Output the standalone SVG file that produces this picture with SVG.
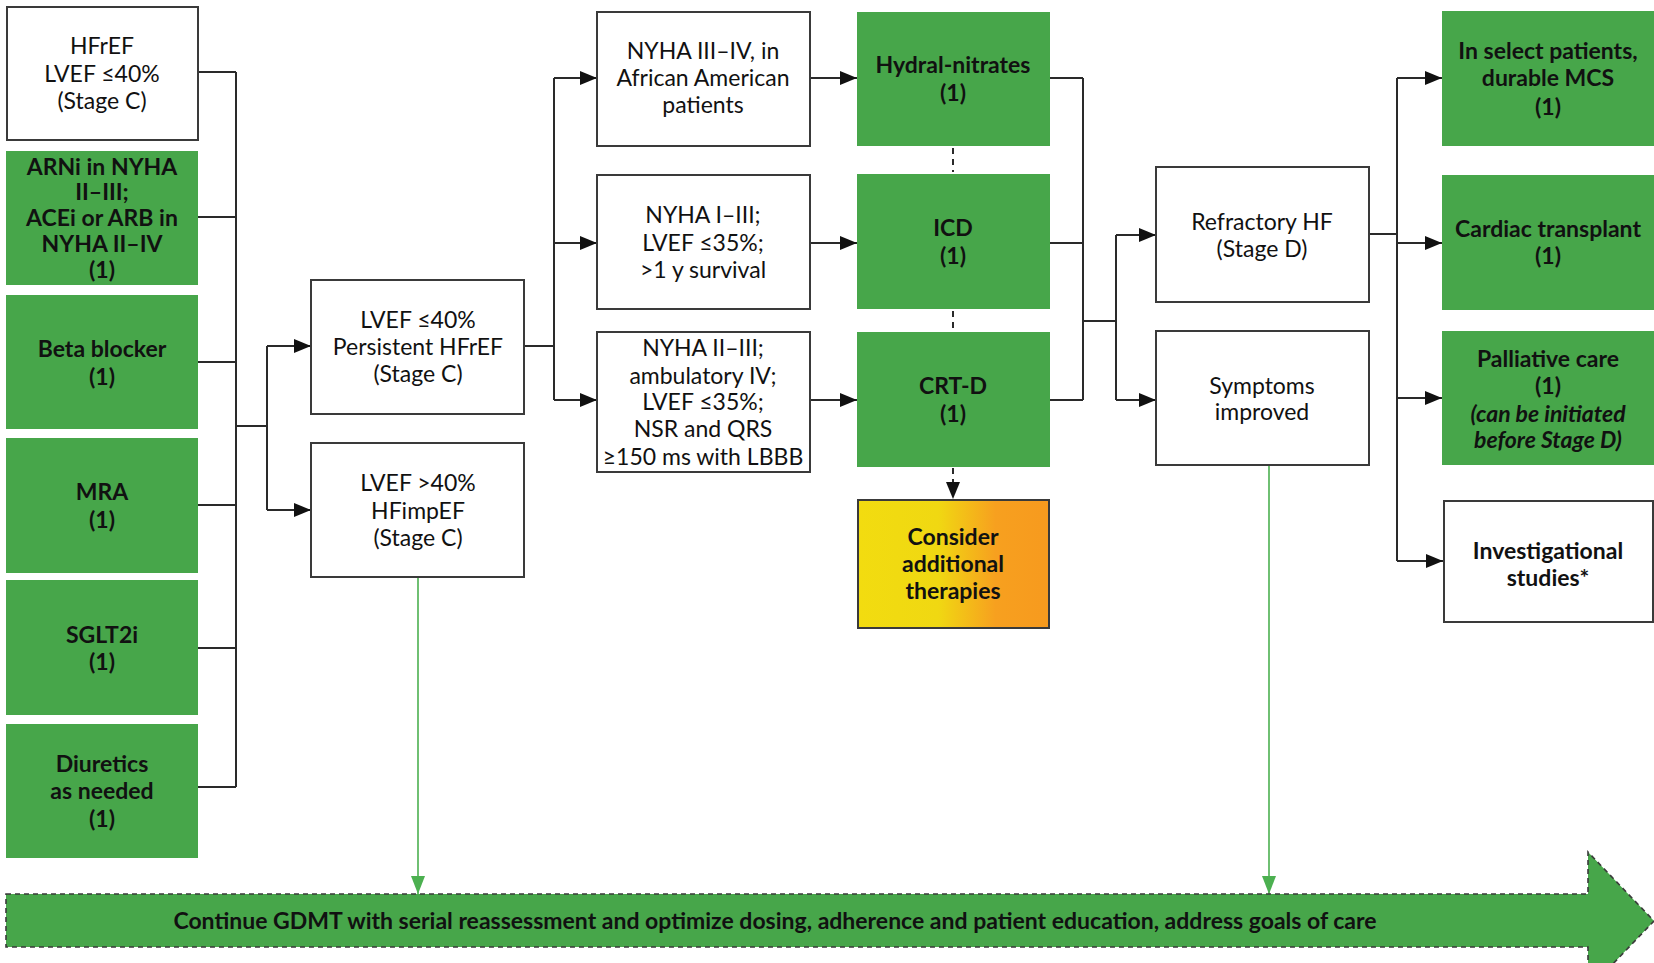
<svg xmlns="http://www.w3.org/2000/svg" width="1654" height="963" viewBox="0 0 1654 963">
<style>
.box{fill:#fff;stroke:#3a3a3a;stroke-width:2}
.g{fill:#47a64a}
.t{font-family:Lato,"Liberation Sans",sans-serif;font-size:23px;text-anchor:middle;fill:#111}
.b{font-weight:bold}
.i{font-style:italic;font-weight:bold}
.c{fill:none;stroke:#2a2a2a;stroke-width:2}
.d{fill:none;stroke:#2a2a2a;stroke-width:2;stroke-dasharray:6,5}
.gl{fill:none;stroke:#4cb050;stroke-width:1.6}
</style>
<defs>
<marker id="ar" markerUnits="userSpaceOnUse" markerWidth="17" markerHeight="14" viewBox="0 0 17 14" refX="17" refY="7" orient="auto"><path d="M0,0 L17,7 L0,14 z" fill="#111"/></marker>
<marker id="ag" markerUnits="userSpaceOnUse" markerWidth="18" markerHeight="14" viewBox="0 0 18 14" refX="18" refY="7" orient="auto"><path d="M0,0 L18,7 L0,14 z" fill="#4cb050"/></marker>
<linearGradient id="yo" x1="0" y1="0" x2="1" y2="0">
<stop offset="0" stop-color="#f2dc10"/><stop offset="0.42" stop-color="#f0d812"/><stop offset="0.72" stop-color="#f7a01f"/><stop offset="1" stop-color="#f79a1e"/>
</linearGradient>
</defs>

<g id="connectors">
<path class="c" d="M198,72H236M198,217H236M198,362H236M198,505H236M198,648H236M198,787H236M236,72V787M236,426H267M267,346V510"/>
<path class="c" d="M267,346H311" marker-end="url(#ar)"/>
<path class="c" d="M267,510H311" marker-end="url(#ar)"/>
<path class="c" d="M524,346H554M554,78V400"/>
<path class="c" d="M554,78H597" marker-end="url(#ar)"/>
<path class="c" d="M554,243H597" marker-end="url(#ar)"/>
<path class="c" d="M554,400H597" marker-end="url(#ar)"/>
<path class="c" d="M810,78H857" marker-end="url(#ar)"/>
<path class="c" d="M810,243H857" marker-end="url(#ar)"/>
<path class="c" d="M810,400H857" marker-end="url(#ar)"/>
<path class="c" d="M1050,78H1083M1050,243H1083M1050,400H1083M1083,78V400M1083,321H1116M1116,235V400"/>
<path class="c" d="M1116,235H1156" marker-end="url(#ar)"/>
<path class="c" d="M1116,400H1156" marker-end="url(#ar)"/>
<path class="c" d="M1369,234H1397M1397,78V561"/>
<path class="c" d="M1397,78H1442" marker-end="url(#ar)"/>
<path class="c" d="M1397,243H1442" marker-end="url(#ar)"/>
<path class="c" d="M1397,398H1442" marker-end="url(#ar)"/>
<path class="c" d="M1397,561H1443" marker-end="url(#ar)"/>
<path class="d" d="M953,148V172M953,311V331"/>
<path class="d" d="M953,468V499" marker-end="url(#ar)"/>
<path class="gl" d="M418,578V894" marker-end="url(#ag)"/>
<path class="gl" d="M1269,465V894" marker-end="url(#ag)"/>
</g>

<g id="n-hfref"><rect class="box" x="7" y="7" width="191" height="133"/>
<text class="t" x="102" y="54">HFrEF</text><text class="t" x="102" y="82">LVEF ≤40%</text><text class="t" x="102" y="109">(Stage C)</text></g>

<g id="n-arni"><rect class="g" x="6" y="151" width="192" height="134"/>
<text class="t b" x="102" y="175">ARNi in NYHA</text><text class="t b" x="102" y="200">II–III;</text><text class="t b" x="102" y="226">ACEi or ARB in</text><text class="t b" x="102" y="252">NYHA II–IV</text><text class="t b" x="102" y="278">(1)</text></g>

<g id="n-beta"><rect class="g" x="6" y="295" width="192" height="134"/>
<text class="t b" x="102" y="357">Beta blocker</text><text class="t b" x="102" y="385">(1)</text></g>

<g id="n-mra"><rect class="g" x="6" y="438" width="192" height="135"/>
<text class="t b" x="102" y="500">MRA</text><text class="t b" x="102" y="528">(1)</text></g>

<g id="n-sglt2i"><rect class="g" x="6" y="580" width="192" height="135"/>
<text class="t b" x="102" y="643">SGLT2i</text><text class="t b" x="102" y="670">(1)</text></g>

<g id="n-diur"><rect class="g" x="6" y="724" width="192" height="134"/>
<text class="t b" x="102" y="772">Diuretics</text><text class="t b" x="102" y="799">as needed</text><text class="t b" x="102" y="827">(1)</text></g>

<g id="n-persist"><rect class="box" x="311" y="280" width="213" height="134"/>
<text class="t" x="418" y="328">LVEF ≤40%</text><text class="t" x="418" y="355">Persistent HFrEF</text><text class="t" x="418" y="382">(Stage C)</text></g>

<g id="n-impef"><rect class="box" x="311" y="443" width="213" height="134"/>
<text class="t" x="418" y="491">LVEF &gt;40%</text><text class="t" x="418" y="519">HFimpEF</text><text class="t" x="418" y="546">(Stage C)</text></g>

<g id="n-aa"><rect class="box" x="597" y="12" width="213" height="134"/>
<text class="t" x="703" y="59">NYHA III–IV, in</text><text class="t" x="703" y="86">African American</text><text class="t" x="703" y="113">patients</text></g>

<g id="n-icdcrit"><rect class="box" x="597" y="175" width="213" height="134"/>
<text class="t" x="703" y="223">NYHA I–III;</text><text class="t" x="703" y="251">LVEF ≤35%;</text><text class="t" x="703" y="278">&gt;1 y survival</text></g>

<g id="n-crtcrit"><rect class="box" x="597" y="332" width="213" height="140"/>
<text class="t" x="703" y="356">NYHA II–III;</text><text class="t" x="703" y="384">ambulatory IV;</text><text class="t" x="703" y="410">LVEF ≤35%;</text><text class="t" x="703" y="437">NSR and QRS</text><text class="t" x="703" y="465">≥150 ms with LBBB</text></g>

<g id="n-hydral"><rect class="g" x="857" y="12" width="193" height="134"/>
<text class="t b" x="953" y="73">Hydral-nitrates</text><text class="t b" x="953" y="101">(1)</text></g>

<g id="n-icd"><rect class="g" x="857" y="174" width="193" height="135"/>
<text class="t b" x="953" y="236">ICD</text><text class="t b" x="953" y="264">(1)</text></g>

<g id="n-crtd"><rect class="g" x="857" y="332" width="193" height="135"/>
<text class="t b" x="953" y="394">CRT-D</text><text class="t b" x="953" y="422">(1)</text></g>

<g id="n-consider"><rect x="858" y="500" width="191" height="128" fill="url(#yo)" stroke="#3a3a3a" stroke-width="2"/>
<text class="t b" x="953" y="545">Consider</text><text class="t b" x="953" y="572">additional</text><text class="t b" x="953" y="599">therapies</text></g>

<g id="n-refractory"><rect class="box" x="1156" y="167" width="213" height="135"/>
<text class="t" x="1262" y="230">Refractory HF</text><text class="t" x="1262" y="257">(Stage D)</text></g>

<g id="n-improved"><rect class="box" x="1156" y="331" width="213" height="134"/>
<text class="t" x="1262" y="394">Symptoms</text><text class="t" x="1262" y="420">improved</text></g>

<g id="n-mcs"><rect class="g" x="1442" y="11" width="212" height="135"/>
<text class="t b" x="1548" y="59">In select patients,</text><text class="t b" x="1548" y="86">durable MCS</text><text class="t b" x="1548" y="115">(1)</text></g>

<g id="n-transplant"><rect class="g" x="1442" y="175" width="212" height="135"/>
<text class="t b" x="1548" y="237">Cardiac transplant</text><text class="t b" x="1548" y="264">(1)</text></g>

<g id="n-palliative"><rect class="g" x="1442" y="331" width="212" height="134"/>
<text class="t b" x="1548" y="367">Palliative care</text><text class="t b" x="1548" y="394">(1)</text><text class="t i" x="1548" y="422">(can be initiated</text><text class="t i" x="1548" y="448">before Stage D)</text></g>

<g id="n-invest"><rect class="box" x="1444" y="501" width="209" height="121"/>
<text class="t b" x="1548" y="559">Investigational</text><text class="t b" x="1548" y="586">studies*</text></g>

<g id="n-gdmt"><path d="M6,894H1588V852L1654,921L1588,990V947H6Z" fill="#47a64a" stroke="#3a3a3a" stroke-width="1.6" stroke-dasharray="5,4"/>
<text class="t b" x="775" y="929">Continue GDMT with serial reassessment and optimize dosing, adherence and patient education, address goals of care</text></g>
</svg>
